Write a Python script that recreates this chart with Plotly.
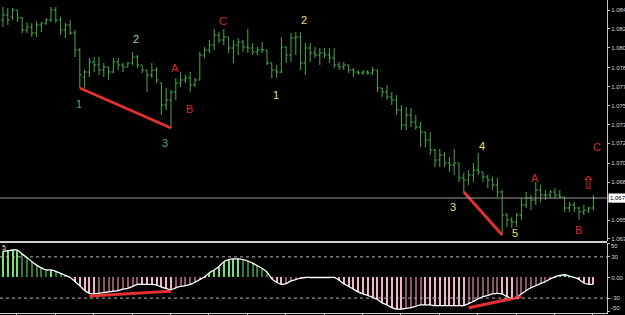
import plotly.graph_objects as go

# ---------------- data ----------------
bar_index = list(range(124))

high = [1.08437, 1.08428, 1.08428, 1.08410, 1.08347, 1.08302, 1.08293, 1.08302, 1.08302, 1.08338,
        1.08437, 1.08437, 1.08347, 1.08293, 1.08320, 1.08230, 1.08068, 1.07870, 1.07978, 1.07987,
        1.07987, 1.07933, 1.07897, 1.07978, 1.07978, 1.07933, 1.07942, 1.08032, 1.08005, 1.07915,
        1.07870, 1.07933, 1.07897, 1.07753, 1.07708, 1.07690, 1.07798, 1.07852, 1.07825, 1.07852,
        1.07798, 1.08032, 1.08077, 1.08140, 1.08239, 1.08212, 1.08239, 1.08167, 1.08140, 1.08158,
        1.08140, 1.08239, 1.08113, 1.08077, 1.08122, 1.08050, 1.07933, 1.07915, 1.08167, 1.08077,
        1.08203, 1.08212, 1.08212, 1.08113, 1.08113, 1.08077, 1.08068, 1.08068, 1.08068, 1.08068,
        1.07942, 1.07942, 1.07915, 1.07888, 1.07870, 1.07870, 1.07870, 1.07897, 1.07870, 1.07708,
        1.07735, 1.07672, 1.07645, 1.07555, 1.07537, 1.07528, 1.07465, 1.07402, 1.07312, 1.07312,
        1.07159, 1.07159, 1.07132, 1.07087, 1.07159, 1.07033, 1.06943, 1.06970, 1.07033, 1.07123,
        1.06952, 1.06925, 1.06907, 1.06898, 1.06790, 1.06583, 1.06547, 1.06583, 1.06718, 1.06772,
        1.06745, 1.06862, 1.06835, 1.06790, 1.06790, 1.06808, 1.06790, 1.06727, 1.06682, 1.06682,
        1.06637, 1.06655, 1.06637, 1.06745]

low = [1.08257, 1.08275, 1.08320, 1.08302, 1.08203, 1.08203, 1.08167, 1.08167, 1.08212, 1.08275,
       1.08302, 1.08293, 1.08185, 1.08158, 1.08185, 1.07987, 1.07708, 1.07708, 1.07807, 1.07852,
       1.07825, 1.07807, 1.07780, 1.07843, 1.07870, 1.07852, 1.07897, 1.07915, 1.07888, 1.07843,
       1.07672, 1.07798, 1.07753, 1.07465, 1.07510, 1.07348, 1.07600, 1.07717, 1.07753, 1.07672,
       1.07717, 1.07780, 1.07978, 1.08023, 1.08050, 1.08113, 1.08095, 1.08023, 1.07933, 1.08005,
       1.08032, 1.08023, 1.08005, 1.08005, 1.08023, 1.07915, 1.07798, 1.07798, 1.07843, 1.07933,
       1.07942, 1.08005, 1.07870, 1.07825, 1.07942, 1.07978, 1.07915, 1.07978, 1.07933, 1.07888,
       1.07870, 1.07870, 1.07843, 1.07807, 1.07825, 1.07825, 1.07825, 1.07825, 1.07672, 1.07627,
       1.07600, 1.07555, 1.07465, 1.07330, 1.07330, 1.07357, 1.07330, 1.07177, 1.07177, 1.07105,
       1.06997, 1.06997, 1.06997, 1.06952, 1.06925, 1.06862, 1.06772, 1.06835, 1.06862, 1.06925,
       1.06862, 1.06808, 1.06790, 1.06727, 1.06385, 1.06457, 1.06448, 1.06457, 1.06520, 1.06628,
       1.06610, 1.06655, 1.06682, 1.06700, 1.06718, 1.06718, 1.06718, 1.06592, 1.06592, 1.06592,
       1.06520, 1.06565, 1.06583, 1.06610]

open_ = [1.08320, 1.08365, 1.08347, 1.08410, 1.08338, 1.08230, 1.08257, 1.08203, 1.08275, 1.08293,
         1.08320, 1.08410, 1.08320, 1.08230, 1.08275, 1.08203, 1.08050, 1.07807, 1.07852, 1.07942,
         1.07915, 1.07870, 1.07897, 1.07852, 1.07942, 1.07915, 1.07897, 1.07933, 1.07987, 1.07915,
         1.07870, 1.07825, 1.07870, 1.07753, 1.07555, 1.07600, 1.07672, 1.07753, 1.07780, 1.07798,
         1.07735, 1.07780, 1.08005, 1.08050, 1.08095, 1.08185, 1.08140, 1.08167, 1.08068, 1.08095,
         1.08122, 1.08077, 1.08068, 1.08032, 1.08050, 1.08050, 1.07933, 1.07870, 1.07852, 1.08077,
         1.08005, 1.08158, 1.08167, 1.07933, 1.08068, 1.08023, 1.08005, 1.08023, 1.08005, 1.07978,
         1.07915, 1.07897, 1.07915, 1.07870, 1.07852, 1.07843, 1.07852, 1.07843, 1.07870, 1.07708,
         1.07672, 1.07627, 1.07600, 1.07510, 1.07375, 1.07465, 1.07402, 1.07357, 1.07312, 1.07240,
         1.07150, 1.07060, 1.07105, 1.07033, 1.07015, 1.07033, 1.06898, 1.06880, 1.06925, 1.06970,
         1.06952, 1.06907, 1.06880, 1.06835, 1.06772, 1.06565, 1.06520, 1.06502, 1.06565, 1.06655,
         1.06718, 1.06700, 1.06790, 1.06745, 1.06745, 1.06772, 1.06745, 1.06727, 1.06628, 1.06655,
         1.06628, 1.06592, 1.06610, 1.06628]

close = [1.08365, 1.08320, 1.08410, 1.08338, 1.08230, 1.08257, 1.08203, 1.08275, 1.08293, 1.08320,
         1.08410, 1.08320, 1.08230, 1.08275, 1.08203, 1.08050, 1.07825, 1.07852, 1.07942, 1.07915,
         1.07870, 1.07897, 1.07852, 1.07942, 1.07915, 1.07897, 1.07933, 1.07987, 1.07915, 1.07870,
         1.07825, 1.07870, 1.07780, 1.07555, 1.07600, 1.07672, 1.07753, 1.07780, 1.07798, 1.07735,
         1.07780, 1.08005, 1.08050, 1.08095, 1.08185, 1.08140, 1.08167, 1.08068, 1.08095, 1.08122,
         1.08077, 1.08068, 1.08032, 1.08050, 1.08050, 1.07933, 1.07870, 1.07852, 1.08077, 1.08005,
         1.08158, 1.08167, 1.07933, 1.08068, 1.08023, 1.08005, 1.08023, 1.08005, 1.07978, 1.07915,
         1.07897, 1.07915, 1.07870, 1.07852, 1.07843, 1.07852, 1.07843, 1.07870, 1.07708, 1.07672,
         1.07627, 1.07600, 1.07510, 1.07375, 1.07465, 1.07402, 1.07357, 1.07312, 1.07240, 1.07150,
         1.07060, 1.07105, 1.07033, 1.07015, 1.07033, 1.06898, 1.06880, 1.06925, 1.06970, 1.06952,
         1.06907, 1.06880, 1.06835, 1.06772, 1.06565, 1.06520, 1.06502, 1.06565, 1.06655, 1.06718,
         1.06700, 1.06790, 1.06745, 1.06745, 1.06772, 1.06745, 1.06727, 1.06628, 1.06655, 1.06628,
         1.06592, 1.06610, 1.06628, 1.06718]

oscillator = [38, 39, 40, 40, 34, 29, 23, 18, 14, 11,
              11, 9, 6, 3, 0, -6, -12, -19, -23, -24,
              -23, -22, -21, -20, -19, -17, -16, -13, -10, -10,
              -10, -10, -11, -14, -16, -18, -15, -13, -12, -10,
              -7, -3, 1, 7, 11, 16, 23, 26, 27, 27,
              26, 24, 21, 17, 13, 8, -2, -7, -10, -9,
              -5, -3, -1, 0, 0, 0, 0, 0, 0, 0,
              -4, -9, -13, -17, -21, -24, -26, -29, -32, -37,
              -40, -44, -46, -46, -45, -44, -42, -40, -40, -40,
              -41, -41, -41, -41, -41, -41, -41, -38, -35, -31,
              -28, -26, -24, -23, -24, -28, -30, -29, -24, -19,
              -15, -12, -9, -6, -2, 1, 3, 4, 2, 0,
              -3, -8, -10, -10]

price_ticks = [1.0841, 1.0824, 1.0807, 1.0789, 1.0772, 1.0755, 1.0738,
               1.0721, 1.0703, 1.0686, 1.0669, 1.0652, 1.0635]
osc_ticks = [50, 30, 0, -30, -50]
osc_tick_text = ["", "30", "0.00", "-30", ""]
osc_edge_labels = [("50", 246), ("-50", 308)]   # MT4 pulls the edge labels inside the panel
osc_levels = [30, -30]
time_ticks = [2.9, 10.9, 18.9, 26.9, 34.9, 42.9, 50.9, 58.9, 66.9, 74.9,
              82.9, 90.9, 98.9, 106.9, 114.9, 122.9]

# price divergence lines: pairs of bar indices (drawn through the bars' lows)
price_div = [(16, 35), (96, 104)]
# oscillator divergence lines: (index, value) endpoints
osc_div = [((18, -27), (35, -20)), ((97, -44), (108, -28))]

# wave labels: (text, bar position, price, colour)
wave_labels = [
    ("1", 15.8, 1.07564, "#3fae6a"),
    ("2", 27.7, 1.08149, "#8fd88f"),
    ("3", 33.75, 1.07213, "#3fae6a"),
    ("A", 35.8, 1.07888, "#d42a2a"),
    ("B", 38.75, 1.07519, "#d42a2a"),
    ("C", 45.8, 1.08311, "#d42a2a"),
    ("1", 56.9, 1.07645, "#e8e07a"),
    ("2", 62.7, 1.08320, "#e8e07a"),
    ("3", 93.75, 1.06637, "#e8e07a"),
    ("4", 99.8, 1.07186, "#e8e07a"),
    ("5", 106.7, 1.06403, "#e8e07a"),
    ("A", 110.8, 1.06898, "#d42a2a"),
    ("B", 119.8, 1.06430, "#d42a2a"),
    ("C", 123.75, 1.07177, "#d42a2a"),
]
arrow_pos = (121.9, 1.06862)

# ---------------- styling ----------------
W, H = 625, 315
BAR_GREEN = "#4aa84a"
AXIS_RIGHT = 607 / W
main_dom = [1 - 241 / H, 1.0]
sub_dom = [1 - 313 / H, 1 - 243 / H]
x_range = [-0.625, 125.83]
SMALL = "Liberation Sans, Arial"

hist_colors = []
for i, v in enumerate(oscillator):
    prev = oscillator[i - 1] if i > 0 else v
    if v > 0:
        hist_colors.append("#72e072" if v >= prev else "#2f7a34")
    else:
        hist_colors.append("#f2b3c8" if v <= prev else "#8c5666")

fig = go.Figure()
fig.add_trace(go.Ohlc(
    x=bar_index, open=open_, high=high, low=low, close=close,
    increasing=dict(line=dict(color=BAR_GREEN, width=1)),
    decreasing=dict(line=dict(color=BAR_GREEN, width=1)),
    tickwidth=0.4, hoverinfo="skip", xaxis="x", yaxis="y"))

fig.add_trace(go.Bar(x=bar_index, y=oscillator, width=0.2,
                     marker=dict(color=hist_colors, line=dict(width=0)),
                     hoverinfo="skip", xaxis="x2", yaxis="y2"))
fig.add_trace(go.Scatter(x=bar_index, y=oscillator, mode="lines",
                         line=dict(color="white", width=1.3, shape="spline", smoothing=0.6),
                         hoverinfo="skip", xaxis="x2", yaxis="y2"))

for a, b in price_div:
    fig.add_trace(go.Scatter(x=[a, b], y=[low[a], low[b]], mode="lines",
                             line=dict(color="#e23030", width=3),
                             hoverinfo="skip", xaxis="x", yaxis="y"))
for (a, va), (b, vb) in osc_div:
    fig.add_trace(go.Scatter(x=[a, b], y=[va, vb], mode="lines",
                             line=dict(color="#e23030", width=3),
                             hoverinfo="skip", xaxis="x2", yaxis="y2"))

shapes = []
shapes.append(dict(type="line", xref="paper", yref="y", x0=0, x1=AXIS_RIGHT,
                   y0=close[-1], y1=close[-1], line=dict(color="#9a9a9a", width=1)))
shapes.append(dict(type="line", xref="paper", yref="paper", x0=0, x1=AXIS_RIGHT,
                   y0=1 - 242 / H, y1=1 - 242 / H, line=dict(color="#cfcfcf", width=2)))
for lv in osc_levels:
    shapes.append(dict(type="line", xref="paper", yref="y2", x0=0, x1=AXIS_RIGHT,
                       y0=lv, y1=lv, line=dict(color="#b8b8b8", width=1, dash="dot")))

tickfont = dict(family=SMALL, size=6, color="#d4d4d4")

annotations = []
for txt, xi, py, col in wave_labels:
    annotations.append(dict(x=xi, y=py, xref="x", yref="y", text=txt, showarrow=False,
                            font=dict(family="Liberation Sans, Arial", size=11, color=col)))
annotations.append(dict(x=arrow_pos[0], y=arrow_pos[1], xref="x", yref="y", text="⇧",
                        showarrow=False,
                        font=dict(family="DejaVu Sans", size=18, color="#d42a2a")))
annotations.append(dict(x=608 / W, y=close[-1], xref="paper", yref="y", xanchor="left",
                        yanchor="middle", text=f"{close[-1]:.4f}", showarrow=False,
                        bgcolor="white", borderpad=1,
                        font=dict(family=SMALL, size=6, color="black")))
for txt, py in osc_edge_labels:
    annotations.append(dict(x=609 / W, y=1 - py / H, xref="paper", yref="paper",
                            xanchor="left", yanchor="middle", text=txt, showarrow=False,
                            font=tickfont))
annotations.append(dict(x=0, y=1 - 247 / H, xref="paper", yref="paper", xanchor="left",
                        yanchor="middle", text="5", showarrow=False,
                        font=dict(family=SMALL, size=7, color="#dddddd")))

fig.update_layout(
    width=W, height=H, margin=dict(l=0, r=0, t=0, b=0, autoexpand=False),
    paper_bgcolor="black", plot_bgcolor="black", showlegend=False, bargap=0,
    shapes=shapes, annotations=annotations,
    xaxis=dict(domain=[0, AXIS_RIGHT], range=x_range, anchor="y", automargin=False,
               showgrid=False, zeroline=False, showticklabels=False,
               rangeslider=dict(visible=False), showline=False),
    yaxis=dict(domain=main_dom, range=[1.06331, 1.0850], side="right", anchor="x",
               automargin=False,
               showgrid=False, zeroline=False, tickvals=price_ticks,
               ticktext=[f"{v:.4f}" for v in price_ticks],
               ticks="outside", ticklen=2, tickcolor="#c0c0c0", ticklabelstandoff=0,
               showline=True, linecolor="#c0c0c0", linewidth=1, tickfont=tickfont),
    xaxis2=dict(domain=[0, AXIS_RIGHT], range=x_range, anchor="y2", matches="x",
                automargin=False,
                showgrid=False, zeroline=False, showticklabels=False,
                showline=True, linecolor="#cfcfcf", linewidth=1,
                tickvals=time_ticks, ticks="outside", ticklen=3, tickcolor="#cfcfcf"),
    yaxis2=dict(domain=sub_dom, range=[-51.7, 50.2], side="right", anchor="x2",
                automargin=False,
                showgrid=False, zeroline=False, tickvals=osc_ticks, ticktext=osc_tick_text,
                ticks="outside", ticklen=2, tickcolor="#c0c0c0", ticklabelstandoff=0,
                showline=True, linecolor="#c0c0c0", linewidth=1, tickfont=tickfont),
)

fig.write_html("out.html")
